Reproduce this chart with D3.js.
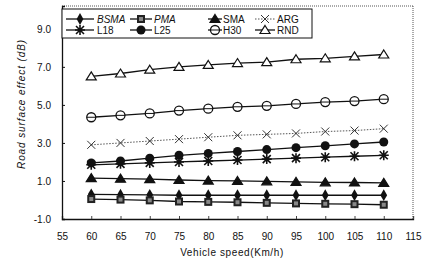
<!DOCTYPE html>
<html>
<head>
<meta charset="utf-8">
<script src="https://cdn.jsdelivr.net/npm/d3@7"></script>
<style>
  body { margin: 0; background: #fff; }
  text { font-family: "Liberation Sans", Arial, sans-serif; fill: #111; }
</style>
</head>
<body>
<script>
const speeds = [60, 65, 70, 75, 80, 85, 90, 95, 100, 105, 110];
const xTicks = [55, 60, 65, 70, 75, 80, 85, 90, 95, 100, 105, 110, 115];
const yTicks = [-1, 1, 3, 5, 7, 9];

const bsma = [0.3, 0.28, 0.27, 0.25, 0.25, 0.25, 0.25, 0.25, 0.25, 0.25, 0.25];
const pma  = [0.05, 0.02, -0.02, -0.08, -0.1, -0.12, -0.15, -0.18, -0.2, -0.22, -0.25];
const sma  = [1.15, 1.12, 1.1, 1.05, 1.02, 1.0, 0.98, 0.95, 0.93, 0.92, 0.9];
const arg  = [2.9, 3.0, 3.1, 3.2, 3.3, 3.4, 3.45, 3.5, 3.6, 3.65, 3.75];
const l18  = [1.85, 1.9, 1.95, 2.0, 2.05, 2.1, 2.15, 2.2, 2.25, 2.3, 2.35];
const l25  = [1.95, 2.05, 2.2, 2.35, 2.45, 2.55, 2.65, 2.75, 2.85, 2.95, 3.05];
const h30  = [4.35, 4.45, 4.55, 4.7, 4.8, 4.9, 4.95, 5.05, 5.15, 5.2, 5.3];
const rnd  = [6.5, 6.65, 6.85, 7.0, 7.1, 7.2, 7.25, 7.4, 7.45, 7.55, 7.65];

const seriesNames = ["BSMA", "PMA", "SMA", "ARG", "L18", "L25", "H30", "RND"];
const seriesValues = [bsma, pma, sma, arg, l18, l25, h30, rnd];
const markers = ["diamond", "square", "triangle", "cross", "asterisk", "circle", "ocircle", "otriangle"];

const W = 423, H = 262;
const svg = d3.select("body").append("svg").attr("width", W).attr("height", H);

const x = d3.scaleLinear().domain([55, 115]).range([62, 413]);
const y = d3.scaleLinear().domain([-1, 10.2]).range([219, 6]);

// frame: top/right dotted, left/bottom solid
svg.append("line").attr("x1", 62).attr("x2", 413).attr("y1", 6).attr("y2", 6)
  .attr("stroke", "#555").attr("stroke-dasharray", "1,1");
svg.append("line").attr("x1", 413).attr("x2", 413).attr("y1", 6).attr("y2", 219)
  .attr("stroke", "#555").attr("stroke-dasharray", "1,1");

const xAxis = d3.axisBottom(x).tickValues(xTicks).tickSize(-3).tickPadding(14).tickFormat(d3.format("d"));
const gx = svg.append("g").attr("transform", "translate(0,219)").call(xAxis);
gx.select(".domain").attr("stroke", "#111").attr("stroke-width", 1.3);
gx.selectAll(".tick line").attr("stroke", "#444");
gx.selectAll("text").attr("font-size", 10).attr("fill", "#111");

const yAxis = d3.axisLeft(y).tickValues(yTicks).tickSize(-3).tickPadding(11)
  .tickFormat(d => d3.format(".1f")(d).replace("\u2212", "-"));
const gy = svg.append("g").attr("transform", "translate(62,0)").call(yAxis);
gy.select(".domain").attr("stroke", "#111").attr("stroke-width", 1.3);
gy.selectAll(".tick line").attr("stroke", "#111");
gy.selectAll("text").attr("font-size", 10).attr("fill", "#111");

svg.append("text").attr("x", 232).attr("y", 256).attr("text-anchor", "middle")
  .attr("font-size", 10).attr("letter-spacing", 0.6).text("Vehicle speed(Km/h)");
svg.append("text").attr("transform", "translate(25,104) rotate(-90)").attr("text-anchor", "middle")
  .attr("font-size", 10).attr("font-style", "italic").attr("letter-spacing", 0.9)
  .text("Road surface effect (dB)");

function drawMarker(g, type, cx, cy) {
  const s = 4;
  if (type === "diamond") {
    g.append("path").attr("d", d3.symbol(d3.symbolDiamond, 40)()).attr("transform", `translate(${cx},${cy})`).attr("fill", "#111");
  } else if (type === "square") {
    g.append("rect").attr("x", cx - s).attr("y", cy - s).attr("width", 2 * s).attr("height", 2 * s)
      .attr("fill", "#222");
    g.append("rect").attr("x", cx - 2).attr("y", cy - 2).attr("width", 4).attr("height", 4).attr("fill", "#888");
  } else if (type === "triangle" || type === "otriangle") {
    g.append("path").attr("d", `M${cx},${cy - 4.5}L${cx + 5},${cy + 3.5}L${cx - 5},${cy + 3.5}Z`)
      .attr("fill", type === "triangle" ? "#111" : "#fff").attr("stroke", "#111").attr("stroke-width", 1.2);
  } else if (type === "cross") {
    g.append("path").attr("d", `M${cx - 4},${cy - 4}L${cx + 4},${cy + 4}M${cx - 4},${cy + 4}L${cx + 4},${cy - 4}`)
      .attr("stroke", "#333").attr("stroke-width", 1);
  } else if (type === "asterisk") {
    g.append("path").attr("d", `M${cx - 4},${cy - 4}L${cx + 4},${cy + 4}M${cx - 4},${cy + 4}L${cx + 4},${cy - 4}M${cx},${cy - 5}L${cx},${cy + 5}M${cx - 5},${cy}L${cx + 5},${cy}`)
      .attr("stroke", "#111").attr("stroke-width", 1.6);
  } else if (type === "circle") {
    g.append("circle").attr("cx", cx).attr("cy", cy).attr("r", 4.5).attr("fill", "#111");
  } else if (type === "ocircle") {
    g.append("circle").attr("cx", cx).attr("cy", cy).attr("r", 4.5).attr("fill", "#fff")
      .attr("stroke", "#111").attr("stroke-width", 1.3);
    g.append("line").attr("x1", cx - 4.5).attr("x2", cx + 4.5).attr("y1", cy).attr("y2", cy)
      .attr("stroke", "#111").attr("stroke-width", 1);
  }
}

const line = d3.line().x(d => x(d[0])).y(d => y(d[1]));

seriesNames.forEach((name, i) => {
  const pts = speeds.map((s, j) => [s, seriesValues[i][j]]);
  const g = svg.append("g");
  g.append("path").attr("d", line(pts)).attr("fill", "none")
    .attr("stroke", markers[i] === "cross" ? "#555" : "#111")
    .attr("stroke-width", markers[i] === "cross" ? 1 : 1.3)
    .attr("stroke-dasharray", markers[i] === "cross" ? "1.5,1.5" : null);
  pts.forEach(p => drawMarker(g, markers[i], x(p[0]), y(p[1])));
});

// legend
const legend = svg.append("g");
legend.append("rect").attr("x", 62).attr("y", 9).attr("width", 250).attr("height", 29)
  .attr("fill", "#fff").attr("stroke", "#111").attr("stroke-width", 1);
const colLine = [[66, 94], [130, 152], [208, 222], [255, 275]];
const colText = [97, 154, 223, 277];
const rowY = [19, 30];
seriesNames.forEach((name, i) => {
  const c = i % 4, r = Math.floor(i / 4);
  const [a, b] = colLine[c];
  legend.append("line").attr("x1", a).attr("x2", b).attr("y1", rowY[r]).attr("y2", rowY[r])
    .attr("stroke", markers[i] === "cross" ? "#555" : "#111")
    .attr("stroke-width", markers[i] === "cross" ? 1 : 1.3)
    .attr("stroke-dasharray", markers[i] === "cross" ? "1.5,1.5" : null);
  drawMarker(legend, markers[i], (a + b) / 2, rowY[r]);
  legend.append("text").attr("x", colText[c]).attr("y", rowY[r] + 3.5)
    .attr("font-size", 10).attr("font-style", i < 2 ? "italic" : "normal").text(name);
});
</script>
</body>
</html>
